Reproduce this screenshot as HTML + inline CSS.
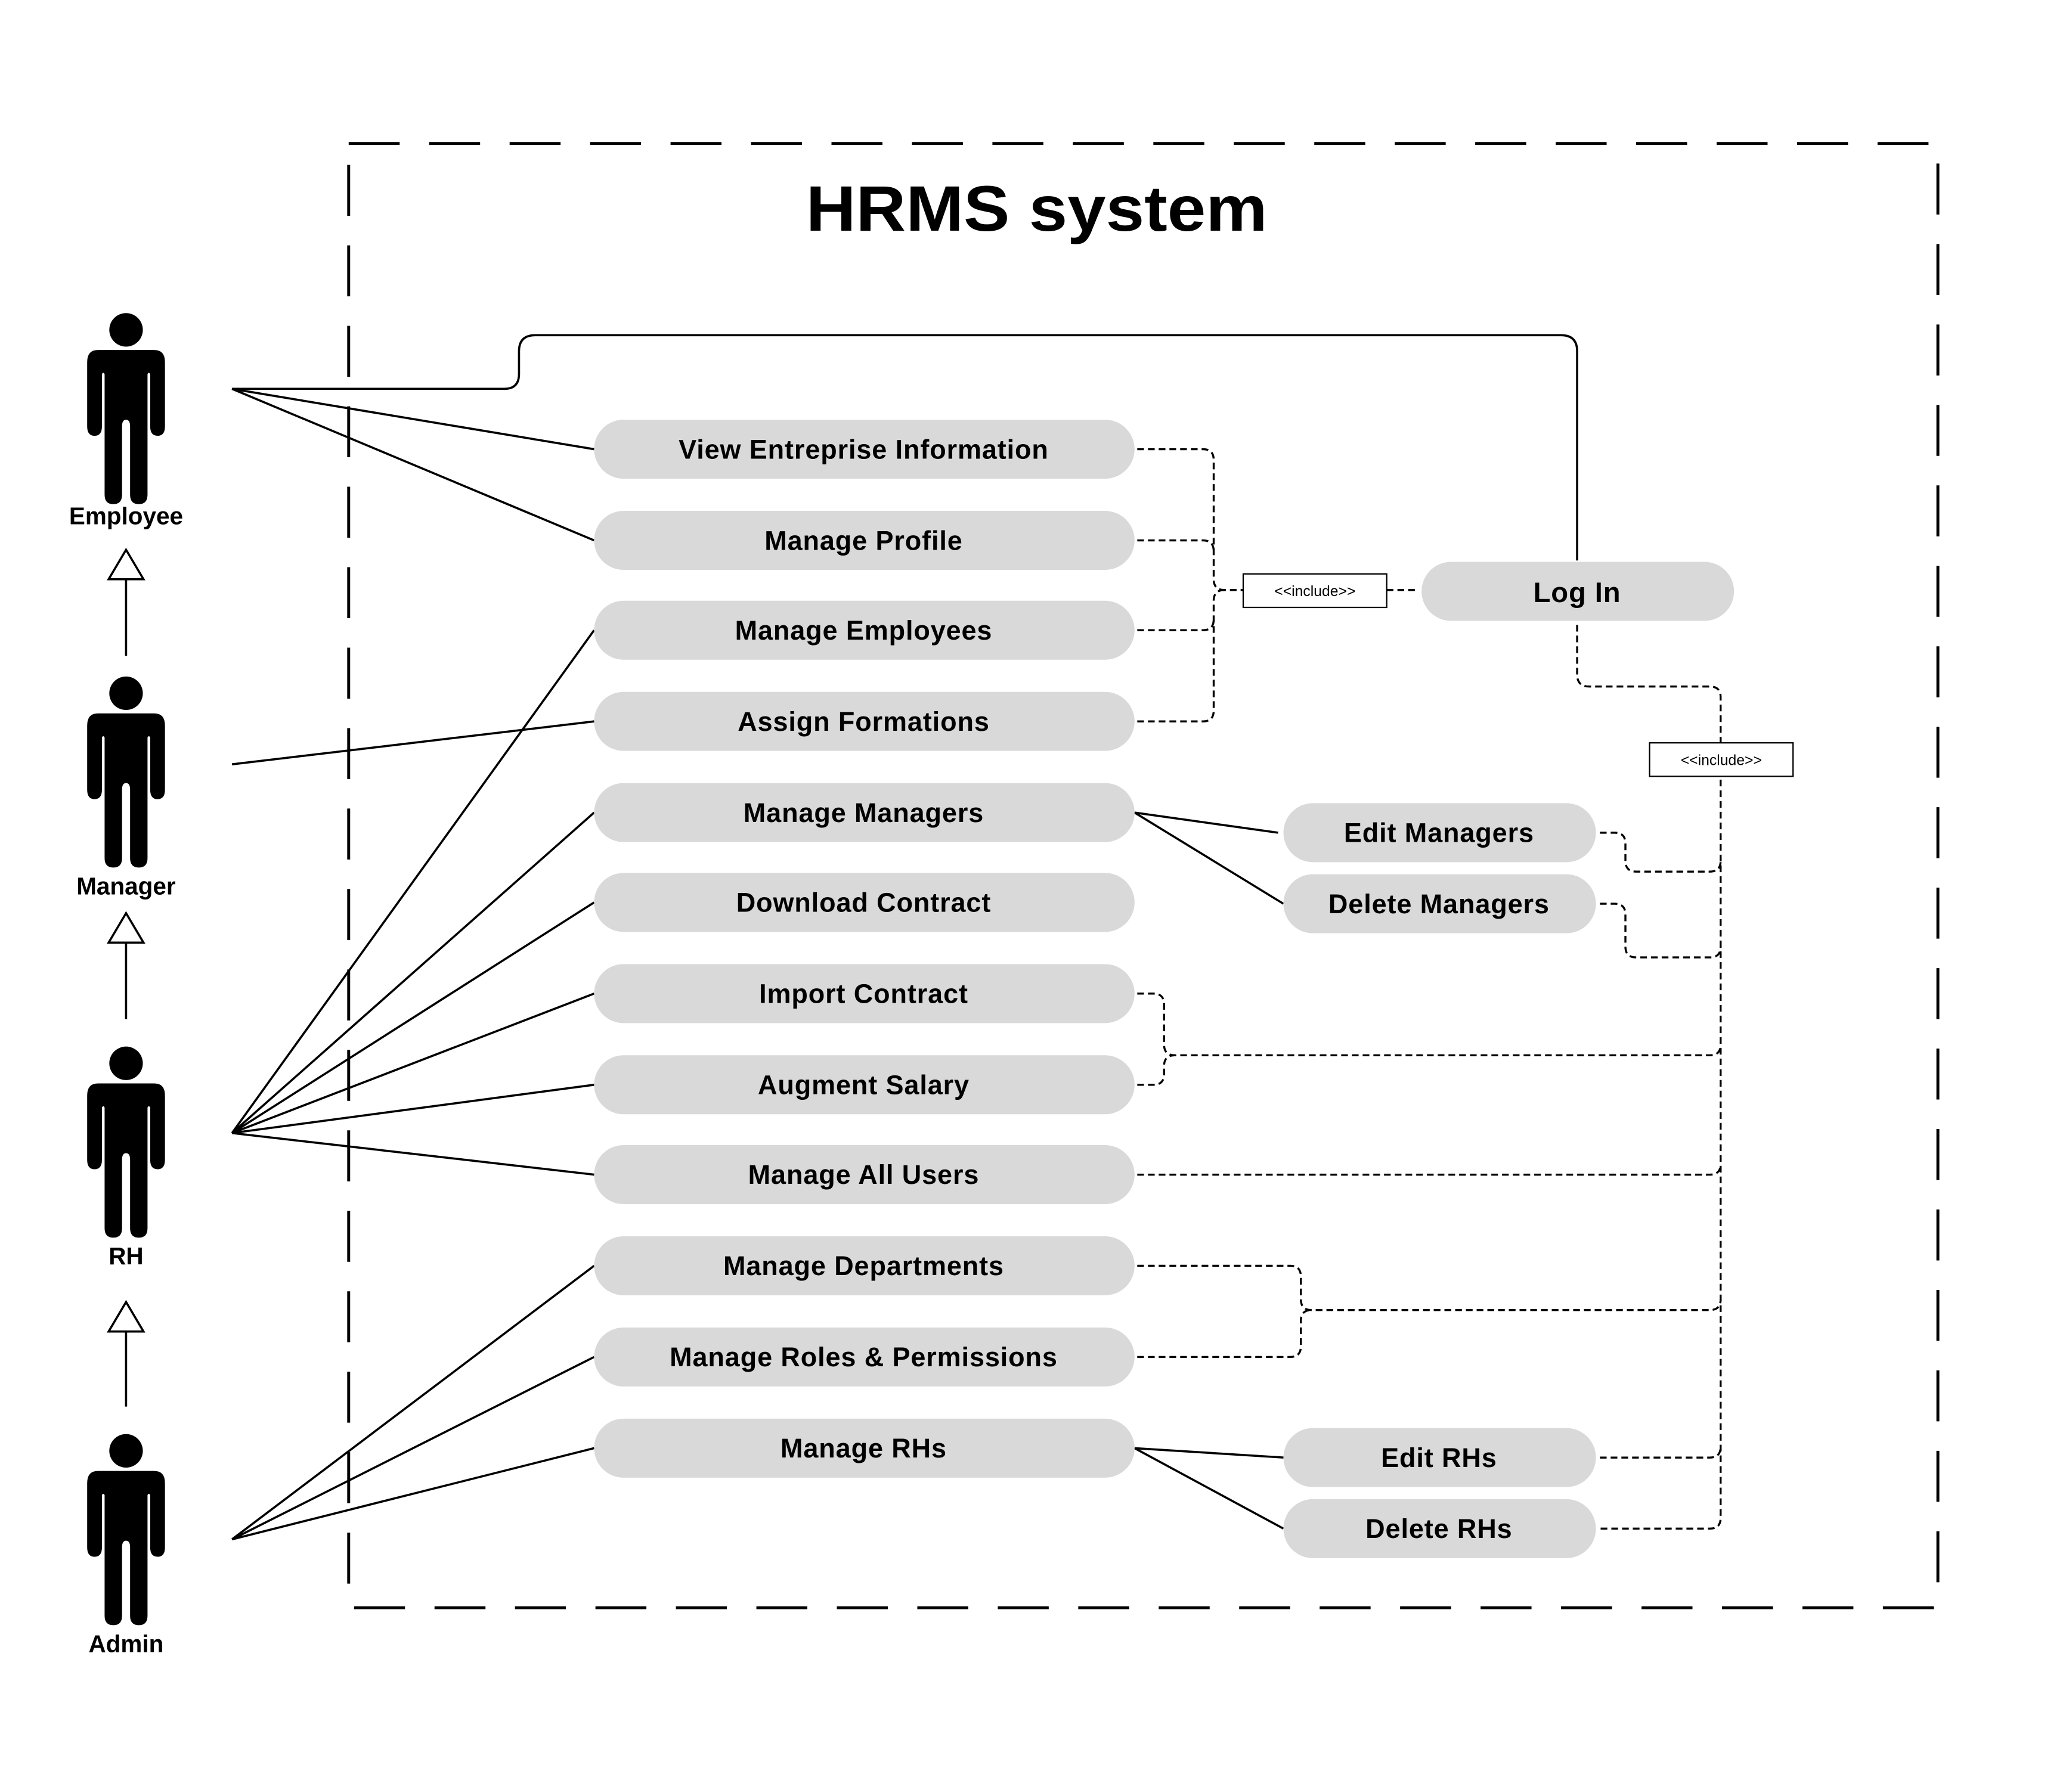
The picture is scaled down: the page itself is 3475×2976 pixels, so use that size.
<!DOCTYPE html>
<html><head><meta charset="utf-8"><style>
html,body{margin:0;padding:0;background:#fff;}
svg{display:block;}
text{font-family:"Liberation Sans",sans-serif;fill:#000;}
</style></head><body>
<svg width="3475" height="2976" viewBox="0 0 1545 1323" preserveAspectRatio="none" xmlns="http://www.w3.org/2000/svg">
<defs>
<g id="actor">
<ellipse cx="0" cy="0" rx="12.5" ry="12.5"/>
<path d="M-21,15 H21 Q29,15 29,24 V72 Q29,79 23.5,79 Q18,79 18,72 V33 Q17,31 16,33 V123 Q16,130 9.5,130 Q3,130 3,123 V72 Q3,67 0,67 Q-3,67 -3,72 V123 Q-3,130 -9.5,130 Q-16,130 -16,123 V33 Q-17,31 -18,33 V72 Q-18,79 -23.5,79 Q-29,79 -29,72 V24 Q-29,15 -21,15 Z"/>
</g>
</defs>
<rect x="260" y="107" width="1185" height="1092" fill="none" stroke="#000" stroke-width="2.2" stroke-dasharray="38,22"/>
<text x="601" y="172" font-size="48" font-weight="bold" textLength="344" lengthAdjust="spacingAndGlyphs">HRMS system</text>

<g fill="#000">
<use href="#actor" x="94" y="246"/>
<use href="#actor" x="94" y="517"/>
<use href="#actor" x="94" y="793"/>
<use href="#actor" x="94" y="1082"/>
</g>
<g font-size="18" text-anchor="middle" font-weight="bold">
<text x="94" y="391">Employee</text>
<text x="94" y="667">Manager</text>
<text x="94" y="943">RH</text>
<text x="94" y="1232">Admin</text>
</g>
<g stroke="#000" stroke-width="1.6" fill="#fff">
<path d="M94,432 V489 M94,703 V760 M94,993 V1049" fill="none"/>
<path d="M94,410 L107,432 L81,432 Z"/>
<path d="M94,681 L107,703 L81,703 Z"/>
<path d="M94,971 L107,993 L81,993 Z"/>
</g>

<g stroke="#000" stroke-width="1.6" fill="none">
<path d="M173,290 H376 Q387,290 387,279 V262 Q387,250 399,250 H1164 Q1176,250 1176,262 V418"/>
<path d="M173,290 L443,335 M173,290 L443,403"/>
<path d="M173,570 L443,538"/>
<path d="M173,845 L443,470 M173,845 L443,606 M173,845 L443,673 M173,845 L443,741 M173,845 L443,809 M173,845 L443,876"/>
<path d="M173,1148 L443,944 M173,1148 L443,1012 M173,1148 L443,1080"/>
<path d="M846,606 L953,621 M846,606 L957,674"/>
<path d="M846,1080 L957,1087 M846,1080 L957,1140"/>
</g>

<g stroke="#000" stroke-width="1.5" fill="none" stroke-dasharray="5,3">
<path d="M848,335 H897 Q905,335 905,343 V432 Q905,440 913,440 H927"/>
<path d="M848,403 H897 Q905,403 905,411"/>
<path d="M848,470 H897 Q905,470 905,462"/>
<path d="M848,538 H897 Q905,538 905,530 V448 Q905,440 913,440"/>
<path d="M1034,440 H1058"/>
<path d="M1176,466 V503 Q1176,512 1185,512 H1275 Q1283,512 1283,520 V1132 Q1283,1140 1275,1140 H1193"/>
<path d="M1193,621 H1204 Q1212,621 1212,629 V642 Q1212,650 1220,650 H1275 Q1283,650 1283,642"/>
<path d="M1193,674 H1204 Q1212,674 1212,682 V706 Q1212,714 1220,714 H1275 Q1283,714 1283,706"/>
<path d="M848,741 H860 Q868,741 868,749 V779 Q868,787 876,787 H1275 Q1283,787 1283,779"/>
<path d="M848,809 H860 Q868,809 868,801 V795 Q868,787 876,787"/>
<path d="M848,876 H1275 Q1283,876 1283,868"/>
<path d="M848,944 H962 Q970,944 970,952 V969 Q970,977 978,977 H1275 Q1283,977 1283,969"/>
<path d="M848,1012 H962 Q970,1012 970,1004 V985 Q970,977 978,977"/>
<path d="M1193,1087 H1275 Q1283,1087 1283,1079"/>
</g>

<rect x="927" y="428" width="107" height="25" fill="#fff" stroke="#000" stroke-width="1"/>
<rect x="1230" y="554" width="107" height="25" fill="#fff" stroke="#000" stroke-width="1"/>
<g font-size="11" text-anchor="middle">
<text x="980.5" y="444.5">&lt;&lt;include&gt;&gt;</text>
<text x="1283.5" y="570.5">&lt;&lt;include&gt;&gt;</text>
</g>

<g fill="#d9d9d9">
<rect x="443" y="313" width="403" height="44" rx="22"/>
<rect x="443" y="381" width="403" height="44" rx="22"/>
<rect x="443" y="448" width="403" height="44" rx="22"/>
<rect x="443" y="516" width="403" height="44" rx="22"/>
<rect x="443" y="584" width="403" height="44" rx="22"/>
<rect x="443" y="651" width="403" height="44" rx="22"/>
<rect x="443" y="719" width="403" height="44" rx="22"/>
<rect x="443" y="787" width="403" height="44" rx="22"/>
<rect x="443" y="854" width="403" height="44" rx="22"/>
<rect x="443" y="922" width="403" height="44" rx="22"/>
<rect x="443" y="990" width="403" height="44" rx="22"/>
<rect x="443" y="1058" width="403" height="44" rx="22"/>
<rect x="1060" y="419" width="233" height="44" rx="22"/>
<rect x="957" y="599" width="233" height="44" rx="22"/>
<rect x="957" y="652" width="233" height="44" rx="22"/>
<rect x="957" y="1065" width="233" height="44" rx="22"/>
<rect x="957" y="1118" width="233" height="44" rx="22"/>
</g>
<g font-size="20" text-anchor="middle" font-weight="bold" letter-spacing="0.4">
<text x="644" y="342">View Entreprise Information</text>
<text x="644" y="410">Manage Profile</text>
<text x="644" y="477">Manage Employees</text>
<text x="644" y="545">Assign Formations</text>
<text x="644" y="613">Manage Managers</text>
<text x="644" y="680">Download Contract</text>
<text x="644" y="748">Import Contract</text>
<text x="644" y="816">Augment Salary</text>
<text x="644" y="883">Manage All Users</text>
<text x="644" y="951">Manage Departments</text>
<text x="644" y="1019">Manage Roles &amp; Permissions</text>
<text x="644" y="1087">Manage RHs</text>
<text x="1176" y="449" font-size="21">Log In</text>
<text x="1073" y="628">Edit Managers</text>
<text x="1073" y="681">Delete Managers</text>
<text x="1073" y="1094">Edit RHs</text>
<text x="1073" y="1147">Delete RHs</text>
</g>
</svg>
</body></html>
